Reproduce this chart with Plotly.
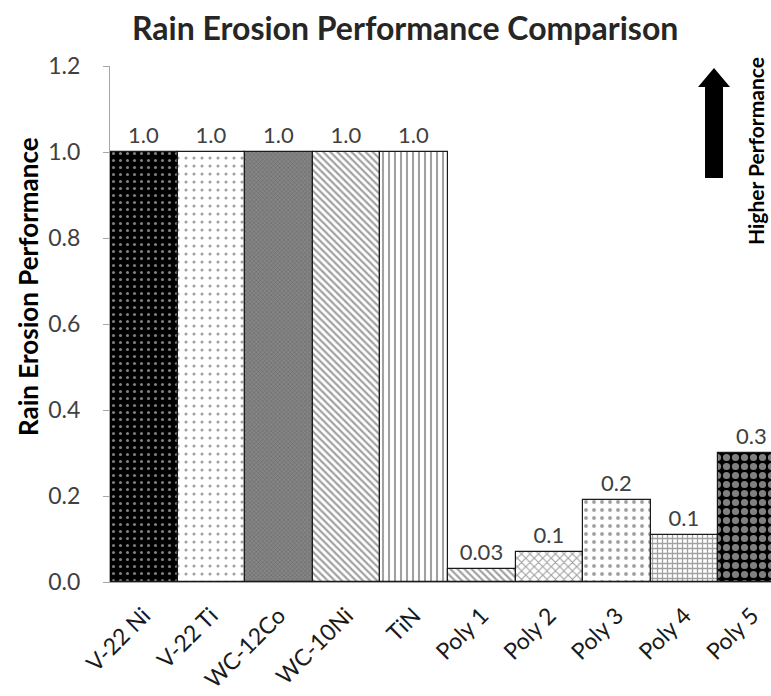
import plotly.graph_objects as go

# Coatings and polymers compared
materials = ["V-22 Ni", "V-22 Ti", "WC-12Co", "WC-10Ni", "TiN",
             "Poly 1", "Poly 2", "Poly 3", "Poly 4", "Poly 5"]
# Relative rain erosion performance (metal coatings normalised to 1.0)
performance = [1.0, 1.0, 1.0, 1.0, 1.0, 0.03, 0.07, 0.19, 0.11, 0.30]
# Decimal places used for each value label
label_decimals = [1, 1, 1, 1, 1, 2, 1, 1, 1, 1]
y_ticks = [0.0, 0.2, 0.4, 0.6, 0.8, 1.0, 1.2]

labels = [f"{v:.{d}f}" for v, d in zip(performance, label_decimals)]

# Monochrome fill patterns, one per bar
pattern_shape = [".", ".", "x", "\\", "|", "\\", "x", ".", "+", "."]
pattern_bg = ["#000000", "#ffffff", "#858585", "#ffffff", "#ffffff",
              "#ffffff", "#ffffff", "#ffffff", "#ffffff", "#000000"]
pattern_fg = ["#a0a0a0", "#8a8a8a", "#6a6a6a", "#505050", "#404040",
              "#505050", "#222222", "#555555", "#000000", "#ffffff"]
pattern_size = [7, 8, 3, 5, 6, 5, 6, 8, 5, 9]
pattern_solidity = [0.15, 0.12, 0.3, 0.45, 0.35, 0.45, 0.35, 0.18, 0.45, 0.5]

FONT = "Lato"
TEXT = "#404040"

L, R, T, B = 110, 0, 66, 114
W, H = 771, 696
PW, PH = W - L - R, H - T - B


def px(x):
    return (x - L) / PW


def py(y):
    return (H - B - y) / PH


fig = go.Figure(go.Bar(
    x=materials,
    y=performance,
    text=labels,
    textposition="outside",
    textfont=dict(family=FONT, size=22, color=TEXT),
    cliponaxis=True,
    marker=dict(
        color=pattern_bg,
        line=dict(color="#1a1a1a", width=1.2),
        pattern=dict(shape=pattern_shape, fgcolor=pattern_fg,
                     size=pattern_size, solidity=pattern_solidity,
                     fillmode="overlay"),
    ),
))

# Upward arrow marking the direction of better performance
arrow_pts = [(705, 178), (723, 178), (723, 87), (730, 87), (714, 68),
             (698, 87), (705, 87)]
arrow_path = "M " + " L ".join(f"{px(a):.4f} {py(b):.4f}" for a, b in arrow_pts) + " Z"
fig.add_shape(type="path", xref="paper", yref="paper", path=arrow_path,
              fillcolor="#000000", line=dict(width=0))

fig.add_annotation(text="<b>Higher Performance</b>", xref="paper", yref="paper",
                   x=px(755), y=py(151), showarrow=False,
                   textangle=-90, font=dict(family=FONT, size=21, color="#000000"),
                   xanchor="center", yanchor="middle")

fig.add_annotation(text="<b>Rain Erosion Performance</b>", xref="paper", yref="paper",
                   x=px(28), y=py(287), showarrow=False,
                   textangle=-90, font=dict(family=FONT, size=26, color="#000000"),
                   xanchor="center", yanchor="middle")

fig.add_annotation(text="<b>Rain Erosion Performance Comparison</b>",
                   xref="paper", yref="paper", x=px(405), y=py(27),
                   showarrow=False, xanchor="center", yanchor="middle",
                   font=dict(family=FONT, size=32, color="#262626"))

fig.update_layout(
    width=W, height=H,
    margin=dict(l=L, r=R, t=T, b=B, autoexpand=False),
    paper_bgcolor="white", plot_bgcolor="white",
    bargap=0, showlegend=False,
    xaxis=dict(range=[-0.5, 9.28], tickangle=-45, showline=True,
               linecolor="#a6a6a6", linewidth=1, ticks="",
               ticklabelstandoff=10, automargin=False,
               tickfont=dict(family=FONT, size=23, color="#1a1a1a")),
    yaxis=dict(range=[0, 1.2], tickvals=y_ticks, tickformat=".1f",
               showline=True, linecolor="#a6a6a6", linewidth=1,
               ticks="outside", ticklen=6, tickcolor="#a6a6a6",
               ticklabelstandoff=18, automargin=False,
               showgrid=False, zeroline=False,
               tickfont=dict(family=FONT, size=23, color=TEXT)),
)

fig.write_html("out.html")
